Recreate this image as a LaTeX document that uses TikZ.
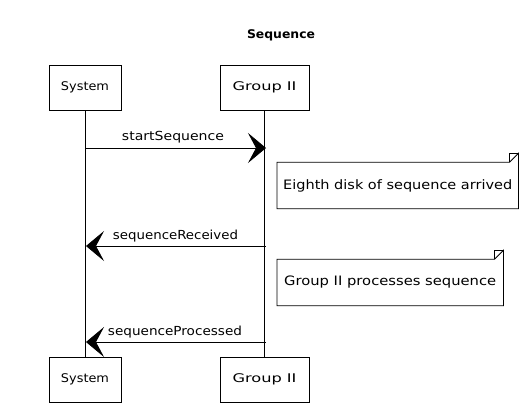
\documentclass[tikz,border=0pt]{standalone}
\usepackage{fontspec}
\usepackage{graphicx}
\setmainfont{DejaVu Sans}
\usetikzlibrary{arrows.meta}
\newcommand\fitw[2]{\resizebox{#1}{\height}{#2}}
\begin{document}
\begin{tikzpicture}[x=1bp,y=-1bp,
  actor/.style={draw, line width=0.8pt, minimum height=45bp, inner sep=0pt, font=\fontsize{12}{14}\selectfont},
  note/.style={inner xsep=6bp, inner ysep=0pt, minimum height=46bp, align=left, font=\fontsize{13}{15}\selectfont},
  life/.style={line width=0.7pt},
  msg/.style={line width=0.8pt, -{Stealth[length=18bp,width=30bp,inset=8bp]}},
  lbl/.style={font=\fontsize{12.5}{15}\selectfont}]
\useasboundingbox (0,0) rectangle (527,408);
\node[font=\bfseries\fontsize{12}{14}\selectfont] (title) at (281,35) {\fitw{68bp}{Sequence}};
\node[actor, minimum width=72bp] (sysT) at (85,87.5) {\fitw{48bp}{System}};
\node[actor, minimum width=89bp] (grpT) at (264.5,87.5) {\fitw{64bp}{Group II}};
\node[actor, minimum width=72bp] (sysB) at (85,379.5) {\fitw{48bp}{System}};
\node[actor, minimum width=89bp] (grpB) at (264.5,379.5) {\fitw{64bp}{Group II}};
\draw[life] (sysT) -- (sysB);
\draw[life] (grpT) -- (grpB);
\coordinate (s1) at (86,148); \coordinate (g1) at (266,148);
\coordinate (s2) at (86,246); \coordinate (g2) at (266,246);
\coordinate (s3) at (86,342); \coordinate (g3) at (266,342);
\draw[msg] (s1) -- (g1);
\draw[msg] (g2) -- (s2);
\draw[msg] (g3) -- (s3);
\node[lbl] (l1) at (173,137) {\fitw{102bp}{startSequence}};
\node[lbl] (l2) at (175.5,236) {\fitw{125bp}{sequenceReceived}};
\node[lbl] (l3) at (175,332) {\fitw{134bp}{sequenceProcessed}};
\node[note, minimum width=241bp, anchor=west] (n1) at (277,185.5) {\fitw{229bp}{Eighth disk of sequence arrived}};
\node[note, minimum width=226bp, anchor=west] (n2) at (277,282.5) {\fitw{212bp}{Group II processes sequence}};
\foreach \n in {n1,n2}{
  \draw[line width=0.8pt] (\n.north west) -- ([xshift=-9bp]\n.north east) -- ([yshift=9bp]\n.north east) -- (\n.south east) -- (\n.south west) -- cycle;
  \draw[line width=0.6pt] ([xshift=-9bp]\n.north east) -- ([xshift=-9bp,yshift=9bp]\n.north east) -- ([yshift=9bp]\n.north east);
}
\end{tikzpicture}
\end{document}
